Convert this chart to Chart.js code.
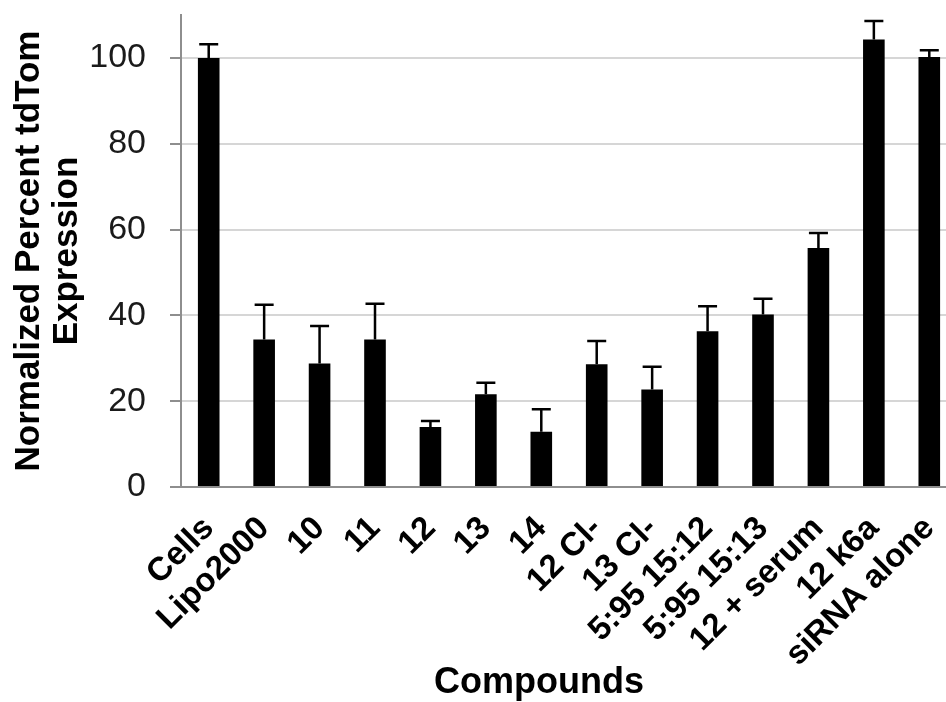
<!DOCTYPE html>
<html>
<head>
<meta charset="utf-8">
<script src="https://cdn.jsdelivr.net/npm/chart.js@4.4.1/dist/chart.umd.min.js"></script>
<style>
  html, body { margin: 0; padding: 0; background: #fff; overflow: hidden; }
  canvas { display: block; }
</style>
</head>
<body>
<canvas id="chart" width="960" height="702"></canvas>
<script>
const compounds = [
  "Cells", "Lipo2000", "10", "11", "12", "13", "14",
  "12 Cl-", "13 Cl-", "5:95 15:12", "5:95 15:13",
  "12 + serum", "12 k6a", "siRNA alone"
];
const expression = [100, 34.4, 28.8, 34.4, 14.0, 21.6, 12.9, 28.6, 22.7, 36.3, 40.2, 55.7, 104.3, 100.2];
const errors = [3.2, 8.1, 8.7, 8.3, 1.4, 2.7, 5.2, 5.4, 5.3, 5.8, 3.7, 3.5, 4.3, 1.6];
const yTicks = [0, 20, 40, 60, 80, 100];

const FONT = "'Liberation Sans', Arial, sans-serif";

// error bars (upper only), drawn on top of the bars
const errorBars = {
  id: "errorBars",
  afterDatasetsDraw(chart) {
    const ctx = chart.ctx;
    const y = chart.scales.y;
    const meta = chart.getDatasetMeta(0);
    ctx.save();
    ctx.strokeStyle = "#000";
    ctx.lineWidth = 2.5;
    meta.data.forEach((bar, i) => {
      const top = y.getPixelForValue(expression[i] + errors[i]);
      ctx.beginPath();
      ctx.moveTo(bar.x, bar.y);
      ctx.lineTo(bar.x, top);
      ctx.moveTo(bar.x - 9.5, top);
      ctx.lineTo(bar.x + 9.5, top);
      ctx.stroke();
    });
    ctx.restore();
  }
};

// x axis title sits left of the plot centre in the original
const xTitle = {
  id: "xTitle",
  afterDraw(chart) {
    const ctx = chart.ctx;
    ctx.save();
    ctx.font = "bold 36px " + FONT;
    ctx.fillStyle = "#000";
    ctx.textAlign = "center";
    ctx.textBaseline = "alphabetic";
    ctx.fillText("Compounds", 539, 693);
    ctx.restore();
  }
};

new Chart(document.getElementById("chart"), {
  type: "bar",
  data: {
    labels: compounds,
    datasets: [{
      data: expression,
      backgroundColor: "#000",
      borderWidth: 0,
      barPercentage: 0.39,
      categoryPercentage: 1
    }]
  },
  options: {
    responsive: false,
    animation: false,
    layout: { padding: { top: 15, right: 3, left: 0, bottom: 0 } },
    plugins: { legend: { display: false }, tooltip: { enabled: false } },
    scales: {
      x: {
        grid: { display: false, drawTicks: false },
        border: { display: true, color: "#8e8e8e", width: 2 },
        ticks: {
          color: "#000",
          font: { family: FONT, size: 33, weight: "bold" },
          maxRotation: 45,
          minRotation: 45,
          padding: 22,
          autoSkip: false
        },
        afterFit(scale) {
          scale.height = 215;
          scale.paddingLeft = 0;
          scale.paddingRight = 0;
        }
      },
      y: {
        min: 0,
        max: 110,
        afterBuildTicks(scale) {
          scale.ticks = yTicks.map(v => ({ value: v }));
        },
        grid: {
          color: "#d6d6d6",
          lineWidth: 2,
          tickColor: "#8e8e8e",
          tickLength: 11,
          tickWidth: 2
        },
        border: { display: true, color: "#8e8e8e", width: 2 },
        ticks: {
          color: "#1a1a1a",
          font: { family: FONT, size: 34 },
          padding: 24
        },
        title: {
          display: true,
          text: ["Normalized Percent tdTom", "Expression"],
          color: "#000",
          font: { family: FONT, size: 35, weight: "bold", lineHeight: 1.09 },
          padding: { top: 10, bottom: 0 }
        },
        afterFit(scale) {
          scale.width = 181;
          scale.paddingTop = 0;
          scale.paddingBottom = 0;
        }
      }
    }
  },
  plugins: [errorBars, xTitle]
});
</script>
</body>
</html>
